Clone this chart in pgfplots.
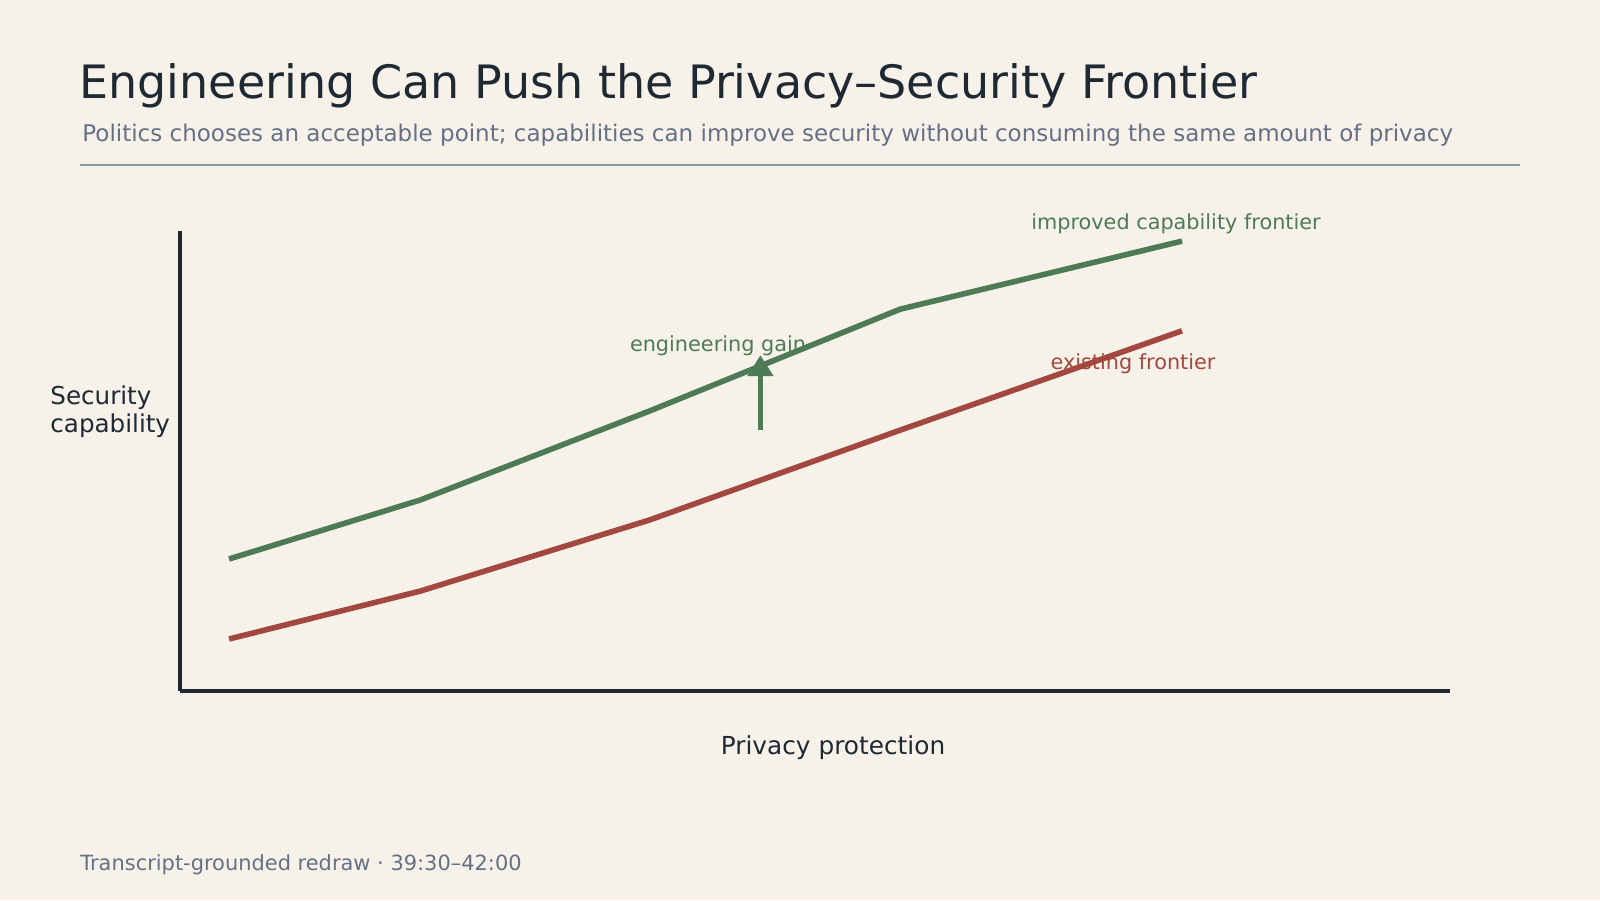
\documentclass[border=0pt]{standalone}
\usepackage{fontspec}
\setmainfont{DejaVu Sans}
\usepackage{pgfplots}
\pgfplotsset{compat=1.18}
\usetikzlibrary{arrows.meta}
\definecolor{bg}{HTML}{F6F2EA}
\definecolor{titlec}{HTML}{1F2933}
\definecolor{subc}{HTML}{667085}
\definecolor{rulec}{HTML}{8D99A6}
\definecolor{axisc}{HTML}{1F2630}
\definecolor{greenc}{HTML}{4E7A55}
\definecolor{redc}{HTML}{A3483F}
\begin{document}
\begin{tikzpicture}
\fill[bg] (0pt,0pt) rectangle (800pt,450pt);
% title block
\node[anchor=base west, inner sep=0pt, text=titlec] at (39.5pt,400.5pt) {\fontsize{23}{27}\selectfont Engineering Can Push the Privacy–Security Frontier};
\node[anchor=base west, inner sep=0pt, text=subc] at (41pt,379pt) {\fontsize{11.5}{13}\selectfont Politics chooses an acceptable point; capabilities can improve security without consuming the same amount of privacy};
\draw[rulec, line width=0.9pt] (40pt,367.5pt) -- (760pt,367.5pt);
% footer
\node[anchor=base west, inner sep=0pt, text=subc] at (40pt,15pt) {\fontsize{10.47}{13}\selectfont Transcript-grounded redraw · 39:30–42:00};
\begin{axis}[
  at={(90pt,104.5pt)}, anchor=south west,
  scale only axis, width=635pt, height=230pt,
  xmin=0, xmax=10, ymin=0, ymax=10,
  axis lines=left,
  axis line style={-, line width=1.65pt, color=axisc},
  xtick=\empty, ytick=\empty,
  clip=false,
]
\addplot[greenc, line width=2.8pt] coordinates {(0.386,2.87) (1.89,4.15) (3.70,6.09) (5.67,8.30) (7.89,9.78)};
\addplot[redc, line width=2.8pt] coordinates {(0.386,1.13) (1.89,2.17) (3.70,3.72) (5.67,5.67) (7.89,7.83)};
\addplot[greenc, line width=2.7pt, -{Triangle[width=12.5pt,length=10.5pt]}] coordinates {(4.57,5.67) (4.57,7.30)};
\end{axis}
% annotations
\node[anchor=base, inner sep=0pt, text=greenc] at (588pt,335pt) {\fontsize{10.4}{12}\selectfont improved capability frontier};
\node[anchor=base, inner sep=0pt, text=greenc] at (359pt,274pt) {\fontsize{10.4}{12}\selectfont engineering gain};
\node[anchor=base, inner sep=0pt, text=redc] at (566.5pt,265pt) {\fontsize{10.4}{12}\selectfont existing frontier};
% axis labels
\node[anchor=west, inner sep=0pt, align=left, text=titlec, font=\fontsize{12.3}{13.9}\selectfont] at (25pt,244pt) {Security\\capability};
\node[anchor=base, inner sep=0pt, text=titlec] at (416.5pt,73pt) {\fontsize{12.4}{14}\selectfont Privacy protection};
\end{tikzpicture}
\end{document}
